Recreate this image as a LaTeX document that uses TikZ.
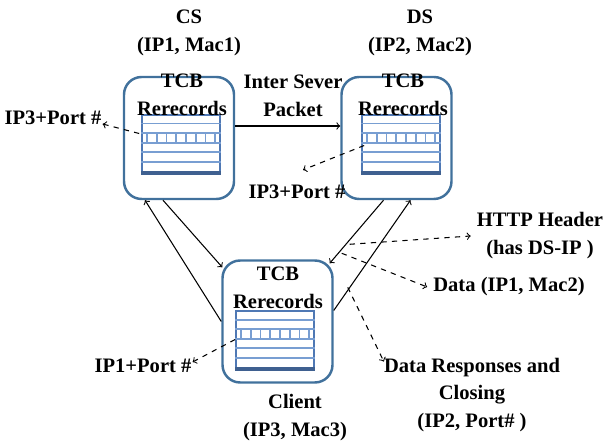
\documentclass[tikz,border=0pt]{standalone}
\usepackage{fontspec}
\setmainfont{Liberation Serif}
\usetikzlibrary{calc,positioning}
\definecolor{tcbblue}{RGB}{65,113,156}
\definecolor{tabblue}{RGB}{79,120,180}
\definecolor{rowblue}{RGB}{120,158,210}

\begin{document}
\begin{tikzpicture}[x=0.02cm,y=-0.02cm,
  every node/.style={font=\fontsize{11.7}{15.9}\selectfont\bfseries,align=center},
  tcbbox/.style={draw=tcbblue,line width=1.4pt,rounded corners=10pt,minimum width=2.2cm,minimum height=2.44cm},
  tcbtab/.style={draw=tabblue,line width=1pt,fill=white,minimum width=1.56cm,minimum height=1.14cm,inner sep=0pt},
  link/.style={->,line width=0.6pt},
  hint/.style={->,dashed,line width=0.6pt}]
\useasboundingbox (0,0) rectangle (604,448);
% the three hosts
\node[tcbbox] (cs) at (179,138) {};
\node[tcbbox] (ds) at (396.5,138) {};
\node[tcbbox] (client) at (277.5,321.5) {};
\node[tcbtab] (cstab) at (181,143.5) {};
\node[tcbtab] (dstab) at (401,143.5) {};
\node[tcbtab] (cltab) at (275,339.5) {};
\foreach \t in {cstab,dstab,cltab}{
  \foreach \r in {1,...,5}
    \draw[rowblue,line width=1pt] ($(\t.north west)+(0,\r*9.5)$) -- ($(\t.north east)+(0,\r*9.5)$);
  \foreach \c in {1,...,8}
    \draw[rowblue,line width=1pt] ($(\t.north west)+({(\c-0.4)*9.75},19)$) -- ($(\t.north west)+({(\c-0.4)*9.75},28.5)$);
  \draw[tabblue!80!black,line width=2pt] (\t.south west) -- (\t.south east);
}
\node (cstxt) at ($(cstab.north)+(1,-19)$) {TCB\\Rerecords};
\node (dstxt) at ($(dstab.north)+(2,-19)$) {TCB\\Rerecords};
\node (cltxt) at ($(cltab.north)+(3,-22)$) {TCB\\Rerecords};
% labels
\node (cslbl) at (189,33) {CS\\(IP1, Mac1)};
\node (dslbl) at (420,33) {DS\\(IP2, Mac2)};
\node (pkt) at (293,96) {Inter Sever\\Packet};
\node (cllbl) at (295,418) {Client\\(IP3, Mac3)};
\node (csport) at (53,118) {IP3+Port \#};
\node (dsport) at (297,192) {IP3+Port \#};
\node (clport) at (143,366) {IP1+Port \#};
\node (http) at (540,236) {HTTP Header\\(has DS-IP )};
\node (data) at (509,287) {Data (IP1, Mac2)};
\node (resp) at (472,395) {Data Responses and\\Closing\\(IP2, Port\# )};
% packets
\draw[link] ($(cs.east)+(0,-12)$) -- ($(ds.west)+(0,-12)$);
\draw[link] (client.west) -- ($(cs.south)+(-34,0)$);
\draw[link] ($(cs.south)+(-16,0)$) -- ($(client.north west)+(1,8)$);
\draw[link] ($(ds.south)+(-13,0)$) -- ($(client.north east)+(-4,4)$);
\draw[link] ($(client.east)+(0,-11)$) -- ($(ds.south)+(14,0)$);
% lookups
\draw[hint] ($(cstab.west)+(-2,-10)$) -- ($(csport.east)+(-5,6)$);
\draw[hint] ($(dstab.west)+(3,2)$) -- ($(dsport.north)+(6,-9)$);
\draw[hint] (cltab.west) -- ($(clport.east)+(-5,-4)$);
\coordinate (hhub) at ($(client.north east)+(16,-15)$);
\coordinate (dhub) at ($(client.north east)+(8,-6)$);
\coordinate (rhub) at ($(client.north east)+(14,28)$);
\draw[hint] (hhub) -- (http.west);
\draw[hint] (dhub) -- (data.west);
\draw[hint] (rhub) -- ($(resp.north west)+(6,10)$);
\end{tikzpicture}
\end{document}
